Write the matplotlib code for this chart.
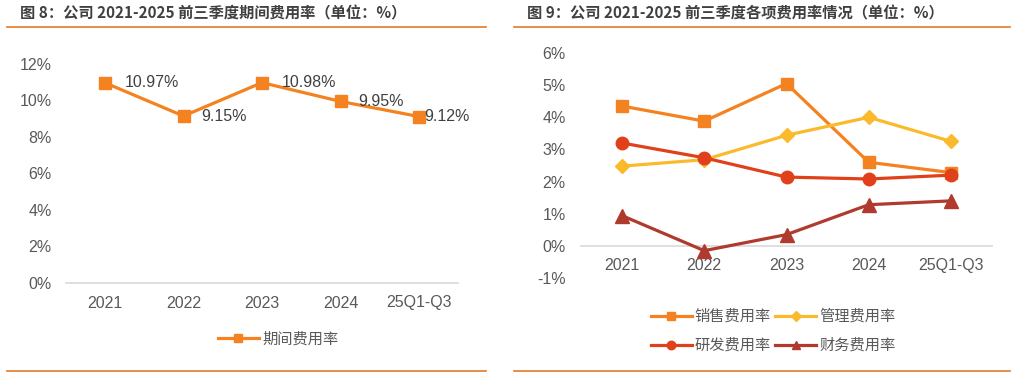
import matplotlib
matplotlib.use("Agg")
import matplotlib.pyplot as plt
from matplotlib.ticker import FuncFormatter

plt.rcParams['font.family'] = ['Liberation Sans', 'Noto Sans CJK SC', 'DejaVu Sans']

# ---------------- data ----------------
categories = ["2021", "2022", "2023", "2024", "25Q1-Q3"]
period_rate = [10.97, 9.15, 10.98, 9.95, 9.12]
period_labels = ["10.97%", "9.15%", "10.98%", "9.95%", "9.12%"]

sales_rate = [4.35, 3.88, 5.05, 2.60, 2.28]
admin_rate = [2.48, 2.68, 3.44, 4.00, 3.25]
rd_rate = [3.20, 2.74, 2.14, 2.08, 2.20]
fin_rate = [0.94, -0.15, 0.35, 1.28, 1.40]

title_left = "图 8：公司 2021-2025 前三季度期间费用率（单位：%）"
title_right = "图 9：公司 2021-2025 前三季度各项费用率情况（单位：%）"

W, H = 1019, 376
fig = plt.figure(figsize=(W / 100, H / 100), dpi=100)

TXT = "#595959"
AXL = "#D9D9D9"
ORANGE_LINE = "#E07B2A"
C_SALES = "#F58220"
C_ADMIN = "#FBBA2C"
C_RD = "#E0401A"
C_FIN = "#B03A2E"
FS = 11.5

def px(x0, y0, x1, y1):
    return [x0 / W, 1 - y1 / H, (x1 - x0) / W, (y1 - y0) / H]

# decorative title/footer lines and titles
for (x0, x1, t, tx) in [(7, 486, title_left, 20), (514, 1010, title_right, 527)]:
    for y in (27, 371):
        fig.add_artist(plt.Line2D([x0 / W, x1 / W], [1 - y / H, 1 - y / H],
                                  color=ORANGE_LINE, lw=1.2, transform=fig.transFigure))
    fig.text(tx / W, 1 - 13 / H, t, fontsize=11, fontweight='bold', color="#404040",
             family=['Noto Sans CJK SC'], va='center', ha='left')

pct0 = FuncFormatter(lambda v, p: f"{v:.0f}%")

# ---------------- left chart ----------------
axL = fig.add_axes(px(65.75, 64, 458.25, 283))
x = list(range(len(categories)))
axL.plot(x, period_rate, color=C_SALES, lw=2.3, marker='s', ms=9, label="期间费用率")
axL.set_xlim(-0.5, 4.5)
axL.set_ylim(0, 12)
axL.set_yticks(range(0, 13, 2))
axL.yaxis.set_major_formatter(pct0)
axL.set_xticks(x)
axL.set_xticklabels(categories)
for s in ['top', 'right', 'left']:
    axL.spines[s].set_visible(False)
axL.spines['bottom'].set_color(AXL)
axL.spines['bottom'].set_linewidth(1.2)
axL.tick_params(axis='both', length=0, labelsize=FS, labelcolor=TXT)
axL.tick_params(axis='x', pad=9)
axL.tick_params(axis='y', pad=10)
offsets = [14, 13, 14, 13, 4]
for xi, yi, lab, off in zip(x, period_rate, period_labels, offsets):
    axL.annotate(lab, (xi, yi), xytext=(off, 0), textcoords='offset points',
                 ha='left', va='center', fontsize=FS, color="#404040")
axL.legend(loc='center', bbox_to_anchor=(278 / W, 1 - 339 / H), bbox_transform=fig.transFigure,
           frameon=False, labelcolor=TXT, handlelength=2.7, handletextpad=0.2, markerscale=0.7,
           prop={'family': ['Noto Sans CJK SC'], 'size': 11})

# ---------------- right chart ----------------
axR = fig.add_axes(px(580.9, 53, 992.1, 278))
h1, = axR.plot(x, sales_rate, color=C_SALES, lw=2.3, marker='s', ms=9, label="销售费用率")
h2, = axR.plot(x, admin_rate, color=C_ADMIN, lw=2.3, marker='D', ms=7.5, label="管理费用率")
h3, = axR.plot(x, rd_rate, color=C_RD, lw=2.3, marker='o', ms=9, label="研发费用率")
h4, = axR.plot(x, fin_rate, color=C_FIN, lw=2.3, marker='^', ms=9.5, label="财务费用率")
axR.set_xlim(-0.5, 4.5)
axR.set_ylim(-1, 6)
axR.set_yticks(range(-1, 7))
axR.yaxis.set_major_formatter(pct0)
axR.set_xticks(x)
axR.set_xticklabels(categories)
for s in ['top', 'right', 'left']:
    axR.spines[s].set_visible(False)
axR.spines['bottom'].set_position(('data', 0))
axR.spines['bottom'].set_color(AXL)
axR.spines['bottom'].set_linewidth(1.2)
axR.spines['bottom'].set_zorder(0.5)
axR.tick_params(axis='both', length=0, labelsize=FS, labelcolor=TXT)
axR.tick_params(axis='x', pad=9)
axR.tick_params(axis='y', pad=11)
axR.legend(handles=[h1, h3, h2, h4], loc='center', bbox_to_anchor=(773 / W, 1 - 331 / H),
           bbox_transform=fig.transFigure,
           ncol=2, frameon=False, labelcolor=TXT, handlelength=2.7, handletextpad=0.2,
           columnspacing=0.25, labelspacing=0.8, markerscale=0.68,
           prop={'family': ['Noto Sans CJK SC'], 'size': 11})

fig.savefig("out.png", dpi=100)
